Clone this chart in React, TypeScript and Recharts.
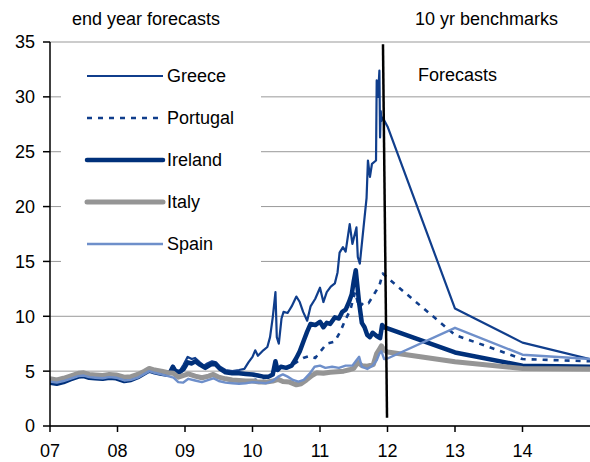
import React from 'react';
import { LineChart, Line, XAxis, YAxis, CartesianGrid, Customized } from 'recharts';

// ---- data (decimal year, yield %) ----
const yearTicks = [2007, 2008, 2009, 2010, 2011, 2012, 2013, 2014];
const yearLabels = ['07', '08', '09', '10', '11', '12', '13', '14'];
const yTicks = [0, 5, 10, 15, 20, 25, 30, 35];
const forecastYears = [2012, 2013, 2014, 2015];

const greeceHist: [number, number][] = [
  [2007.0, 4.1], [2007.1, 4.0], [2007.2, 4.15], [2007.3, 4.4], [2007.42, 4.65], [2007.5, 4.7],
  [2007.58, 4.55], [2007.67, 4.5], [2007.78, 4.45], [2007.88, 4.55], [2007.98, 4.5], [2008.1, 4.3],
  [2008.2, 4.4], [2008.3, 4.6], [2008.4, 4.95], [2008.47, 5.2], [2008.55, 5.05], [2008.65, 4.9],
  [2008.72, 4.8], [2008.78, 5.0], [2008.82, 5.5], [2008.86, 5.1], [2008.92, 5.0], [2008.98, 5.6],
  [2009.04, 6.3], [2009.1, 6.1], [2009.15, 6.2], [2009.22, 5.8], [2009.28, 5.5], [2009.33, 5.7],
  [2009.4, 5.9], [2009.46, 5.8], [2009.52, 5.4], [2009.6, 5.1], [2009.7, 5.0], [2009.8, 5.1],
  [2009.88, 5.2], [2009.94, 5.8], [2010.0, 6.3], [2010.04, 6.9], [2010.08, 6.4], [2010.16, 6.9],
  [2010.22, 7.2], [2010.26, 8.1], [2010.3, 9.9], [2010.34, 12.2], [2010.36, 8.1], [2010.39, 7.5],
  [2010.43, 9.8], [2010.46, 10.4], [2010.52, 10.3], [2010.58, 10.9], [2010.65, 11.8], [2010.7, 11.3],
  [2010.75, 10.4], [2010.81, 9.6], [2010.86, 10.9], [2010.93, 11.6], [2011.0, 12.6], [2011.05, 11.3],
  [2011.1, 12.2], [2011.16, 12.7], [2011.22, 13.0], [2011.26, 14.0], [2011.29, 15.8], [2011.34, 16.3],
  [2011.38, 15.9], [2011.44, 18.4], [2011.48, 16.6], [2011.54, 18.1], [2011.56, 15.4], [2011.59, 14.8],
  [2011.64, 17.8], [2011.69, 20.8], [2011.71, 24.2], [2011.74, 22.7], [2011.77, 23.9], [2011.83, 24.2],
  [2011.84, 31.5], [2011.86, 30.0], [2011.88, 32.4], [2011.89, 26.3], [2011.9, 28.7], [2011.91, 27.8],
  [2011.93, 28.1],
];
const greeceForecast = [27.3, 10.7, 7.6, 6.1];

const portugalHist: [number, number][] = [
  [2007.0, 4.25], [2007.1, 4.15], [2007.2, 4.3], [2007.3, 4.5], [2007.42, 4.75], [2007.5, 4.8],
  [2007.58, 4.65], [2007.67, 4.6], [2007.78, 4.55], [2007.88, 4.65], [2007.98, 4.6], [2008.1, 4.4],
  [2008.2, 4.45], [2008.3, 4.65], [2008.4, 4.95], [2008.47, 5.2], [2008.55, 5.05], [2008.65, 4.95],
  [2008.75, 4.8], [2008.83, 4.75], [2008.9, 4.45], [2008.97, 4.55], [2009.05, 4.7], [2009.15, 4.5],
  [2009.25, 4.4], [2009.35, 4.5], [2009.42, 4.65], [2009.5, 4.45], [2009.6, 4.3], [2009.7, 4.2],
  [2009.8, 4.15], [2009.9, 4.1], [2010.0, 4.15], [2010.1, 4.3], [2010.2, 4.4], [2010.3, 4.8],
  [2010.34, 5.6], [2010.38, 5.1], [2010.45, 5.3], [2010.55, 5.4], [2010.65, 5.8], [2010.75, 6.2],
  [2010.85, 6.4], [2010.93, 6.2], [2011.0, 6.75], [2011.1, 7.5], [2011.22, 7.7], [2011.3, 8.6],
  [2011.37, 9.6], [2011.45, 10.6], [2011.52, 12.2], [2011.58, 10.8], [2011.65, 11.3], [2011.72, 11.2],
  [2011.81, 12.1], [2011.88, 12.8], [2011.93, 13.9],
];
const portugalForecast = [13.5, 8.3, 6.1, 5.9];

const irelandHist: [number, number][] = [
  [2007.0, 3.95], [2007.1, 3.85], [2007.2, 4.0], [2007.3, 4.25], [2007.42, 4.5], [2007.5, 4.55],
  [2007.58, 4.4], [2007.67, 4.35], [2007.78, 4.3], [2007.88, 4.4], [2007.98, 4.35], [2008.1, 4.1],
  [2008.2, 4.2], [2008.3, 4.45], [2008.4, 4.8], [2008.47, 5.05], [2008.55, 4.9], [2008.65, 4.75],
  [2008.72, 4.7], [2008.78, 4.9], [2008.82, 5.4], [2008.86, 5.0], [2008.92, 4.9], [2008.98, 5.2],
  [2009.04, 5.8], [2009.1, 5.7], [2009.15, 5.9], [2009.22, 5.6], [2009.3, 5.3], [2009.38, 5.6],
  [2009.44, 5.7], [2009.52, 5.2], [2009.6, 4.9], [2009.7, 4.8], [2009.8, 4.8], [2009.9, 4.75],
  [2010.0, 4.7], [2010.08, 4.6], [2010.16, 4.5], [2010.24, 4.5], [2010.3, 4.7], [2010.34, 5.9],
  [2010.37, 5.1], [2010.42, 5.4], [2010.5, 5.3], [2010.58, 5.5], [2010.65, 6.2], [2010.7, 6.8],
  [2010.76, 7.8], [2010.81, 8.6], [2010.86, 9.3], [2010.93, 9.2], [2011.0, 9.5], [2011.05, 9.0],
  [2011.1, 9.4], [2011.15, 9.3], [2011.22, 9.9], [2011.28, 9.8], [2011.33, 10.4], [2011.38, 10.6],
  [2011.43, 11.3], [2011.47, 12.0], [2011.5, 13.2], [2011.53, 14.2], [2011.55, 13.0], [2011.58, 11.2],
  [2011.62, 9.4], [2011.66, 9.0], [2011.7, 8.3], [2011.74, 8.1], [2011.78, 8.5], [2011.84, 8.2],
  [2011.89, 8.0], [2011.92, 9.2], [2011.95, 9.0],
];
const irelandForecast = [8.9, 6.7, 5.5, 5.4];

const italyHist: [number, number][] = [
  [2007.0, 4.3], [2007.1, 4.2], [2007.2, 4.35], [2007.3, 4.55], [2007.42, 4.8], [2007.5, 4.85],
  [2007.58, 4.7], [2007.67, 4.65], [2007.78, 4.6], [2007.88, 4.7], [2007.98, 4.65], [2008.1, 4.45],
  [2008.2, 4.5], [2008.3, 4.7], [2008.4, 5.0], [2008.47, 5.25], [2008.55, 5.1], [2008.65, 5.0],
  [2008.75, 4.85], [2008.83, 4.8], [2008.9, 4.45], [2008.97, 4.6], [2009.05, 4.75], [2009.15, 4.55],
  [2009.25, 4.4], [2009.35, 4.55], [2009.42, 4.7], [2009.5, 4.45], [2009.6, 4.3], [2009.7, 4.2],
  [2009.8, 4.15], [2009.9, 4.1], [2010.0, 4.1], [2010.1, 4.0], [2010.2, 4.0], [2010.3, 4.1],
  [2010.38, 4.25], [2010.45, 4.05], [2010.55, 4.0], [2010.65, 3.75], [2010.72, 3.85], [2010.8, 4.2],
  [2010.88, 4.6], [2010.95, 4.85], [2011.05, 4.8], [2011.15, 4.9], [2011.25, 4.95], [2011.35, 5.0],
  [2011.45, 5.15], [2011.5, 5.25], [2011.56, 5.8], [2011.62, 5.5], [2011.7, 5.45], [2011.79, 5.6],
  [2011.84, 6.6], [2011.88, 7.0], [2011.91, 7.3], [2011.95, 6.9],
];
const italyForecast = [6.75, 5.85, 5.25, 5.2];

const spainHist: [number, number][] = [
  [2007.0, 4.05], [2007.1, 3.95], [2007.2, 4.1], [2007.3, 4.3], [2007.42, 4.55], [2007.5, 4.6],
  [2007.58, 4.45], [2007.67, 4.4], [2007.78, 4.35], [2007.88, 4.45], [2007.98, 4.4], [2008.1, 4.15],
  [2008.2, 4.2], [2008.3, 4.4], [2008.4, 4.75], [2008.47, 5.0], [2008.55, 4.85], [2008.65, 4.7],
  [2008.75, 4.55], [2008.83, 4.4], [2008.9, 4.0], [2008.97, 3.95], [2009.05, 4.3], [2009.15, 4.15],
  [2009.25, 4.0], [2009.35, 4.2], [2009.42, 4.35], [2009.5, 4.1], [2009.6, 3.95], [2009.7, 3.9],
  [2009.8, 3.85], [2009.9, 3.9], [2010.0, 4.0], [2010.1, 3.95], [2010.2, 3.9], [2010.3, 4.1],
  [2010.38, 4.5], [2010.45, 4.7], [2010.52, 4.5], [2010.6, 4.2], [2010.68, 4.05], [2010.76, 4.2],
  [2010.85, 4.8], [2010.92, 5.4], [2011.0, 5.5], [2011.08, 5.3], [2011.18, 5.4], [2011.28, 5.3],
  [2011.38, 5.5], [2011.48, 5.5], [2011.54, 6.0], [2011.58, 6.3], [2011.62, 5.4], [2011.7, 5.2],
  [2011.78, 5.5], [2011.84, 6.0], [2011.88, 6.6], [2011.91, 6.8], [2011.95, 6.1],
];
const spainForecast = [6.15, 8.95, 6.5, 6.1];

const dividerLine: [number, number][] = [[2011.933, 34.8], [2011.993, 0.75]];

const toPts = (hist: [number, number][], fc: number[] = []) => [
  ...hist.map(([t, v]) => ({ t, v })),
  ...fc.map((v, i) => ({ t: forecastYears[i], v })),
];

const series = [
  { name: 'Greece', data: toPts(greeceHist, greeceForecast), color: '#103e8c', width: 2.2, dash: undefined },
  { name: 'Portugal', data: toPts(portugalHist, portugalForecast), color: '#103e8c', width: 2.6, dash: '5 6' },
  { name: 'Ireland', data: toPts(irelandHist, irelandForecast), color: '#00307a', width: 4.5, dash: undefined },
  { name: 'Italy', data: toPts(italyHist, italyForecast), color: '#959595', width: 5, dash: undefined },
  { name: 'Spain', data: toPts(spainHist, spainForecast), color: '#6e8fca', width: 2.4, dash: undefined },
];

const FONT = '"Liberation Sans", Arial, sans-serif';
const FS = 18;

const Overlay = () => (
  <g fontFamily={FONT} fontSize={FS} fill="#000">
    <text x={72} y={25}>end year forecasts</text>
    <text x={415} y={25}>10 yr benchmarks</text>
    <text x={418} y={81}>Forecasts</text>
    <rect x={61} y={55} width={200} height={210} fill="#fff" />
    {series.map((s, i) => {
      const y = 76 + i * 42;
      return (
        <g key={s.name}>
          <line x1={87} x2={163} y1={y} y2={y} stroke={s.color} strokeWidth={s.width}
            strokeDasharray={s.dash} strokeLinecap={s.width > 4 ? 'round' : 'butt'} />
          <text x={167} y={y + 6}>{s.name}</text>
        </g>
      );
    })}
  </g>
);

export default function App() {
  return (
    <div style={{ position: 'absolute', left: 0, top: 0, background: '#fff' }}>
      <LineChart width={590} height={462} margin={{ top: 42, right: 0, bottom: 0, left: 0 }}
        style={{ fontFamily: FONT }}>
        <CartesianGrid horizontal vertical={false} stroke="#999" strokeWidth={1} />
        <XAxis type="number" dataKey="t" domain={[2007, 2015]} ticks={yearTicks}
          tickFormatter={(v: number) => yearLabels[yearTicks.indexOf(v)] ?? ''}
          allowDataOverflow height={36} tickSize={6} tickMargin={12}
          axisLine={{ stroke: '#000', strokeWidth: 1.5 }} tickLine={{ stroke: '#000', strokeWidth: 1.5 }}
          tick={{ fill: '#000', fontSize: FS, fontFamily: FONT }} interval={0} />
        <YAxis type="number" domain={[0, 35]} ticks={yTicks} width={50} tickSize={7} tickMargin={8}
          axisLine={{ stroke: '#000', strokeWidth: 1.5 }} tickLine={{ stroke: '#000', strokeWidth: 1.5 }}
          tick={{ fill: '#000', fontSize: FS, fontFamily: FONT }} interval={0} allowDataOverflow />
        {series.map((s) => (
          <Line key={s.name} data={s.data} dataKey="v" type="linear" stroke={s.color}
            strokeWidth={s.width} strokeDasharray={s.dash} dot={false} activeDot={false}
            isAnimationActive={false} strokeLinejoin="round" />
        ))}
        <Line data={dividerLine.map(([t, v]) => ({ t, v }))} dataKey="v" stroke="#000" strokeWidth={2.5}
          dot={false} activeDot={false} isAnimationActive={false} />
        <Customized component={Overlay} />
      </LineChart>
    </div>
  );
}
